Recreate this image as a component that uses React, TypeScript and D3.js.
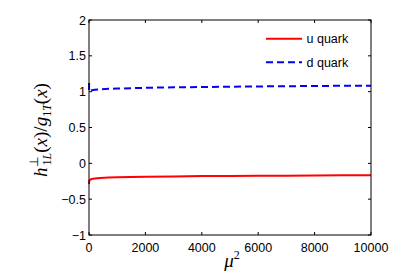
import * as d3 from "d3";

const mu2 = [1, 5, 15, 30, 60, 100, 200, 400, 700, 1000, 1500, 2000, 3000, 4000, 5000, 6000, 7000, 8000, 9000, 10000];
const uQuark = [-0.29, -0.255, -0.24, -0.232, -0.225, -0.219, -0.212, -0.205, -0.199, -0.195, -0.19, -0.187, -0.182, -0.178, -0.176, -0.174, -0.172, -0.17, -0.168, -0.167];
const dQuark = [1.12, 1.0, 1.005, 1.01, 1.015, 1.02, 1.026, 1.033, 1.039, 1.043, 1.049, 1.054, 1.06, 1.065, 1.069, 1.073, 1.076, 1.079, 1.082, 1.084];
const xTicks = [0, 2000, 4000, 6000, 8000, 10000];
const yTicks = [-1, -0.5, 0, 0.5, 1, 1.5, 2];

const W = 409;
const H = 273;
const left = 89;
const right = 371;
const top = 20;
const bottom = 235;
const font = "'Liberation Sans', Arial, Helvetica, sans-serif";
const serif = "'Liberation Serif', 'Times New Roman', serif";

export default function App() {
  const x = d3.scaleLinear().domain([0, 10000]).range([left, right]);
  const y = d3.scaleLinear().domain([-1, 2]).range([bottom, top]);
  const line = d3
    .line<number>()
    .x((_, i) => x(mu2[i]))
    .y((v) => y(v));

  const tick = 3;
  const fmtY = (v: number) => (v < 0 ? "\u2212" + String(-v) : String(v));

  return (
    <svg width={W} height={H} style={{ position: "absolute", left: 0, top: 0, background: "#fff" }}>
      <rect x={0} y={0} width={W} height={H} fill="#fff" />
      <path d={line(uQuark) ?? ""} fill="none" stroke="#ff0000" strokeWidth={2} />
      <path d={line(dQuark) ?? ""} fill="none" stroke="#0000ff" strokeWidth={2} strokeDasharray="7,4" />

      <rect x={left} y={top} width={right - left} height={bottom - top} fill="none" stroke="#000" strokeWidth={1} />
      {xTicks.map((t) => (
        <g key={"x" + t}>
          <line x1={x(t)} x2={x(t)} y1={bottom} y2={bottom - tick} stroke="#000" />
          <line x1={x(t)} x2={x(t)} y1={top} y2={top + tick} stroke="#000" />
          <text x={x(t)} y={252} textAnchor="middle" fontFamily={font} fontSize={12.5} fill="#000">
            {t}
          </text>
        </g>
      ))}
      {yTicks.map((t) => (
        <g key={"y" + t}>
          <line x1={left} x2={left + tick} y1={y(t)} y2={y(t)} stroke="#000" />
          <line x1={right} x2={right - tick} y1={y(t)} y2={y(t)} stroke="#000" />
          <text x={86} y={y(t) + 4.5} textAnchor="end" fontFamily={font} fontSize={12.5} fill="#000">
            {fmtY(t)}
          </text>
        </g>
      ))}

      {/* legend */}
      <line x1={266} x2={302} y1={38.7} y2={38.7} stroke="#ff0000" strokeWidth={2} />
      <text x={306.5} y={43} fontFamily={font} fontSize={12.5} fill="#000">u quark</text>
      <line x1={266} x2={302} y1={62.3} y2={62.3} stroke="#0000ff" strokeWidth={2} strokeDasharray="7,4" />
      <text x={306.5} y={66.6} fontFamily={font} fontSize={12.5} fill="#000">d quark</text>

      {/* axis labels */}
      <text x={232} y={267} textAnchor="middle" fontFamily={serif} fontSize={19} fill="#000">
        <tspan fontStyle="italic">μ</tspan>
        <tspan fontSize={12} dy={-8}>2</tspan>
      </text>
      <g transform="translate(47,130) rotate(-90)">
        <text x={0} y={0} textAnchor="middle" fontFamily={serif} fontSize={19} fill="#000">
          <tspan fontStyle="italic">h</tspan>
          <tspan fontSize={12} dy={-9}>⊥</tspan>
          <tspan fontSize={12} dx={-8} dy={13}>1</tspan>
          <tspan fontSize={12} fontStyle="italic">L</tspan>
          <tspan dy={-4}>(</tspan>
          <tspan fontStyle="italic">x</tspan>
          <tspan>)/</tspan>
          <tspan fontStyle="italic">g</tspan>
          <tspan fontSize={12} dy={4}>1</tspan>
          <tspan fontSize={12} fontStyle="italic">T</tspan>
          <tspan dy={-4}>(</tspan>
          <tspan fontStyle="italic">x</tspan>
          <tspan>)</tspan>
        </text>
      </g>
    </svg>
  );
}
